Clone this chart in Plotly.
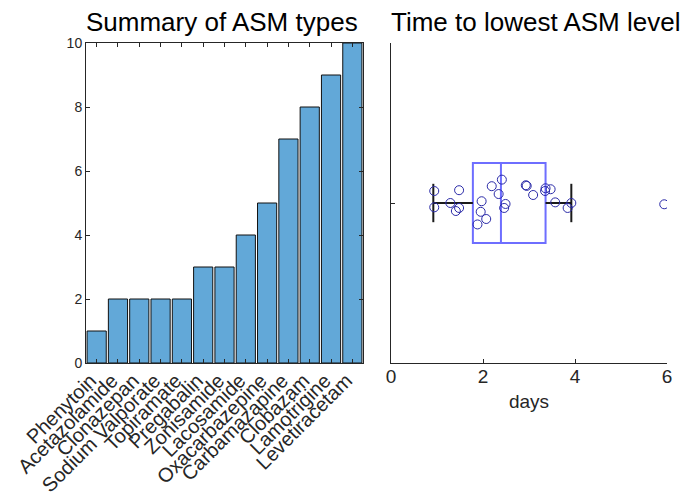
import plotly.graph_objects as go

# ---- data: bar chart ----
drug_names = ["Phenytoin", "Acetazolamide", "Clonazepan", "Sodium Valporate", "Topiramate",
              "Pregabalin", "Zonisamide", "Lacosamide", "Oxacarbazepine", "Carbamazapine",
              "Clobazam", "Lamotrigine", "Levetiracetam"]
drug_counts = [1, 2, 2, 2, 2, 3, 3, 4, 5, 7, 8, 9, 10]
count_ticks = [0, 2, 4, 6, 8, 10]

# ---- data: time to lowest ASM level ----
days_values = [0.94, 0.94, 1.48, 1.29, 1.41, 1.48, 1.97, 1.95, 1.88, 2.07, 2.19, 2.41,
               2.34, 2.49, 2.46, 2.93, 2.95, 3.09, 3.36, 3.35, 3.47, 3.57, 3.84, 3.92, 5.94]
days_jitter = [1.075, 0.973, 1.080, 1.000, 0.950, 0.969, 1.011, 0.945, 0.866, 0.900, 1.105, 1.146,
               1.056, 0.994, 0.969, 1.111, 1.107, 1.050, 1.092, 1.075, 1.086, 1.004, 0.969, 1.000, 0.992]
box_q1 = 1.78
box_median = 2.39
box_q3 = 3.36
whisker_low = 0.92
whisker_high = 3.92
days_ticks = [0, 2, 4, 6]

FONT = "Liberation Sans, Arial, Helvetica, sans-serif"
AX = "#262626"
W, H = 686, 493

def px_x(p):
    return p / W

def px_y(p):
    return 1 - p / H

fig = go.Figure()

fig.add_trace(go.Bar(
    x=drug_names, y=drug_counts,
    marker=dict(color="#62A8D8", line=dict(color="#111111", width=1)),
    xaxis="x", yaxis="y", showlegend=False,
))

# whiskers
wy = 1.0
cap = 0.12
fig.add_trace(go.Scatter(
    x=[whisker_low, box_q1, None, box_q3, whisker_high, None,
       whisker_low, whisker_low, None, whisker_high, whisker_high],
    y=[wy, wy, None, wy, wy, None, wy - cap, wy + cap, None, wy - cap, wy + cap],
    mode="lines", line=dict(color="#1a1a1a", width=2),
    xaxis="x2", yaxis="y2", showlegend=False, hoverinfo="skip",
))

# box
fig.add_trace(go.Box(
    y=[wy], q1=[box_q1], median=[box_median], q3=[box_q3],
    lowerfence=[box_q1], upperfence=[box_q3],
    orientation="h", width=0.5, whiskerwidth=0,
    line=dict(color="#6E6EFF", width=2), fillcolor="rgba(0,0,0,0)",
    xaxis="x2", yaxis="y2", showlegend=False, boxpoints=False,
))

# points
fig.add_trace(go.Scatter(
    x=days_values, y=days_jitter, mode="markers",
    marker=dict(symbol="circle-open", size=9, color="#2a2aa8", line=dict(width=1)),
    xaxis="x2", yaxis="y2", showlegend=False,
))

ydom = [px_y(363), px_y(43)]

fig.update_layout(
    width=W, height=H,
    margin=dict(l=0, r=0, t=0, b=0, autoexpand=False),
    paper_bgcolor="white", plot_bgcolor="white",
    font=dict(family=FONT, color=AX),
    bargap=0.1,
    xaxis=dict(
        domain=[px_x(86), px_x(363)], range=[-0.5, 12.5],
        tickmode="array", tickvals=drug_names, ticktext=drug_names,
        showline=True, linecolor=AX, linewidth=1, mirror="ticks",
        ticks="inside", ticklen=4, tickcolor=AX, tickangle=-45,
        ticklabelshift=-6, ticklabelstandoff=-3,
        tickfont=dict(size=20, color=AX, family=FONT), showgrid=False,
        anchor="y", automargin=False,
    ),
    yaxis=dict(
        domain=ydom, range=[0, 10], tickvals=count_ticks,
        showline=True, linecolor=AX, linewidth=1, mirror="ticks",
        ticks="inside", ticklen=4, tickcolor=AX,
        tickfont=dict(size=14, color=AX, family=FONT), showgrid=False, zeroline=False,
        anchor="x", automargin=False,
    ),
    xaxis2=dict(
        domain=[px_x(391), px_x(667)], range=[0, 6], tickvals=days_ticks,
        showline=True, linecolor=AX, linewidth=1,
        ticks="inside", ticklen=4, tickcolor=AX, ticklabelstandoff=-4,
        tickfont=dict(size=19, color=AX, family=FONT), showgrid=False, zeroline=False,
        title=dict(text="days", font=dict(size=19, color=AX, family=FONT), standoff=8),
        anchor="y2", automargin=False,
    ),
    yaxis2=dict(
        domain=ydom, range=[0, 2], tickvals=[1], showticklabels=False,
        showline=True, linecolor=AX, linewidth=1,
        ticks="inside", ticklen=4, tickcolor=AX, showgrid=False, zeroline=False,
        anchor="x2", automargin=False,
    ),
    annotations=[
        dict(text="Summary of ASM types", x=px_x(222), y=px_y(22), xref="paper", yref="paper",
             xanchor="center", yanchor="middle", showarrow=False,
             font=dict(size=26, color="black", family=FONT)),
        dict(text="Time to lowest ASM level", x=px_x(535), y=px_y(22), xref="paper", yref="paper",
             xanchor="center", yanchor="middle", showarrow=False,
             font=dict(size=26, color="black", family=FONT)),
    ],
)

fig.write_html("out.html", config={"displayModeBar": False},
               post_script="document.body.style.margin='0';document.body.style.overflow='hidden';")
